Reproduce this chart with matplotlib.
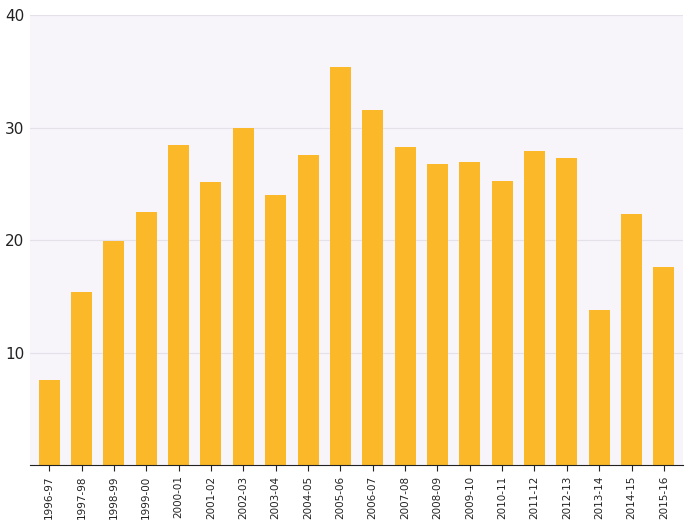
import matplotlib
matplotlib.use("Agg")
import matplotlib.pyplot as plt

seasons = ["1996-97","1997-98","1998-99","1999-00","2000-01","2001-02","2002-03","2003-04",
           "2004-05","2005-06","2006-07","2007-08","2008-09","2009-10","2010-11","2011-12",
           "2012-13","2013-14","2014-15","2015-16"]
ppg = [7.6,15.4,19.9,22.5,28.5,25.2,30.0,24.0,27.6,35.4,31.6,28.3,26.8,27.0,25.3,27.9,27.3,13.8,22.3,17.6]

fig = plt.figure(figsize=(6.93,5.32), dpi=100)
ax = fig.add_axes([0.043,0.126,0.943,0.845])
ax.set_facecolor("#f7f5fa")
x = range(len(seasons))
ax.bar(x, ppg, width=0.65, color="#fbb92a", zorder=2)
ax.set_xlim(-0.6, len(seasons)-0.4)
ax.set_ylim(0, 40)
ax.set_yticks([10,20,30,40])
ax.set_yticklabels(["10","20","30","40"], fontsize=11, color="#222222")
ax.yaxis.grid(True, color="#e4e2e8", lw=0.8, zorder=0)
ax.tick_params(axis="y", length=0, pad=4)
ax.set_xticks(list(x))
ax.set_xticklabels(seasons, rotation=90, fontsize=7.5, color="#222222")
ax.tick_params(axis="x", length=4, color="#222222")
for s in ["top","right","left"]:
    ax.spines[s].set_visible(False)
ax.spines["bottom"].set_color("#222222")
fig.savefig("out.png", dpi=100)
